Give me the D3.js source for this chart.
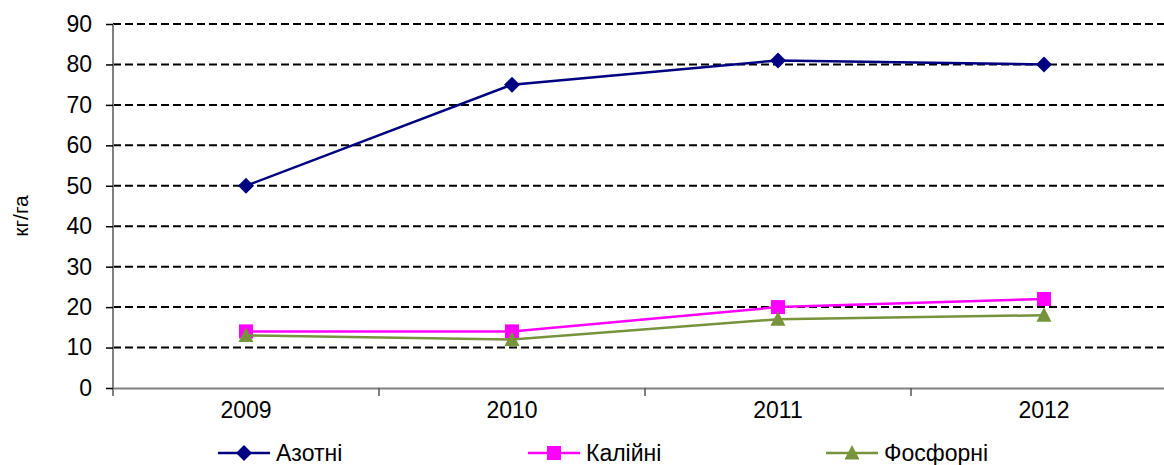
<!DOCTYPE html>
<html>
<head>
<meta charset="utf-8">
<script src="https://cdn.jsdelivr.net/npm/d3@7"></script>
<style>
  body { margin: 0; background: #fff; }
  text { font-family: "Liberation Sans", Arial, sans-serif; fill: #000; }
</style>
</head>
<body>
<div id="chart"></div>
<script>
// datos del grafico
const years = ["2009", "2010", "2011", "2012"];
const azotni = [50, 75, 81, 80];
const kaliini = [14, 14, 20, 22];
const fosforni = [13, 12, 17, 18];
const yTicks = [0, 10, 20, 30, 40, 50, 60, 70, 80, 90];
const seriesNames = ["Азотні", "Калійні", "Фосфорні"];

const width = 1164, height = 465;
const svg = d3.select("#chart").append("svg")
  .attr("width", width).attr("height", height);

// escalas
const x = d3.scaleBand().domain(years).range([113, 1177]);
const y = d3.scaleLinear().domain([0, 90]).range([388, 24]);

// lineas de cuadricula discontinuas
svg.selectAll(".grid")
  .data(yTicks.filter(d => d > 0))
  .join("line")
  .attr("x1", 113).attr("x2", width)
  .attr("y1", d => y(d)).attr("y2", d => y(d))
  .attr("stroke", "#000").attr("stroke-width", 2)
  .attr("stroke-dasharray", "8,4");

const font = "'Liberation Sans', Arial, sans-serif";

// eje Y
const yAxis = svg.append("g")
  .attr("transform", "translate(113,0)")
  .call(d3.axisLeft(y).tickValues(yTicks).tickSize(7).tickPadding(14));
yAxis.select(".domain").attr("stroke", "#808080").attr("stroke-width", 2)
  .attr("d", "M0,24V396");
yAxis.selectAll(".tick line").attr("stroke", "#000").attr("stroke-width", 1.5);
yAxis.selectAll(".tick text")
  .style("font-size", "23px").style("font-family", font);

// eje X
const xAxis = svg.append("g")
  .attr("transform", "translate(0,388)")
  .call(d3.axisBottom(x).tickSize(0).tickPadding(14));
xAxis.select(".domain").attr("stroke", "#808080").attr("stroke-width", 2);
xAxis.selectAll(".tick text")
  .style("font-size", "23px").style("font-family", font);
// marcas entre categorias
svg.selectAll(".xsep")
  .data(years.slice(1))
  .join("line")
  .attr("x1", d => x(d)).attr("x2", d => x(d))
  .attr("y1", 388).attr("y2", 396)
  .attr("stroke", "#555").attr("stroke-width", 1.5);

// etiqueta del eje Y
svg.append("text")
  .attr("transform", "translate(28,216) rotate(-90)")
  .attr("text-anchor", "middle")
  .style("font-size", "21px")
  .text("кг/га");

// marcadores
const diamond = "M0,-8L8,0L0,8L-8,0Z";
const square = "M-7,-7H7V7H-7Z";
const triangle = "M0,-8L7.5,6.5H-7.5Z";

const series = [
  { name: seriesNames[0], values: azotni, color: "#000080", shape: diamond },
  { name: seriesNames[1], values: kaliini, color: "#ff00ff", shape: square },
  { name: seriesNames[2], values: fosforni, color: "#77933c", shape: triangle }
];

const cx = d => x(d) + x.bandwidth() / 2;
const line = d3.line().x(d => cx(d[0])).y(d => y(d[1]));

series.forEach(s => {
  const pts = years.map((yr, i) => [yr, s.values[i]]);
  svg.append("path")
    .datum(pts)
    .attr("d", line)
    .attr("fill", "none")
    .attr("stroke", s.color)
    .attr("stroke-width", 2.5);
  svg.selectAll(null)
    .data(pts)
    .join("path")
    .attr("d", s.shape)
    .attr("transform", d => `translate(${cx(d[0])},${y(d[1])})`)
    .attr("fill", s.color);
});

// leyenda
const legendX = [218, 528, 826];
const legend = svg.selectAll(".legend")
  .data(series)
  .join("g")
  .attr("transform", (d, i) => `translate(${legendX[i]},453)`);
legend.append("line")
  .attr("x1", 0).attr("x2", 52)
  .attr("stroke", d => d.color).attr("stroke-width", 2.5);
legend.append("path")
  .attr("d", d => d.shape)
  .attr("transform", "translate(26,0)")
  .attr("fill", d => d.color);
legend.append("text")
  .attr("x", 58).attr("y", 8)
  .style("font-size", "23px")
  .text(d => d.name);
</script>
</body>
</html>
